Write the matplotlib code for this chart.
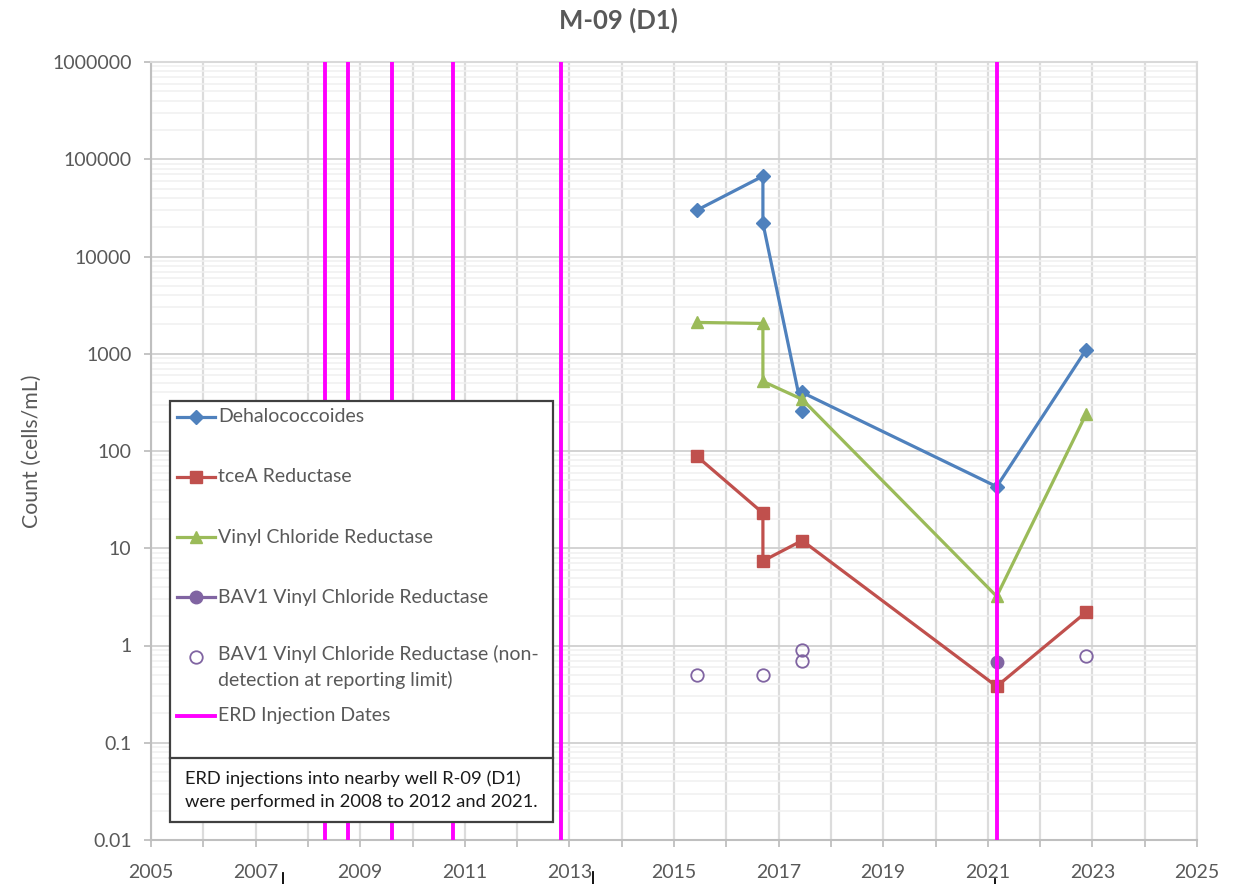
import numpy as np
import matplotlib
matplotlib.use("Agg")
from matplotlib import pyplot as plt
from matplotlib.patches import Rectangle
from matplotlib.lines import Line2D
from matplotlib.ticker import FixedLocator, FuncFormatter, NullFormatter

plt.rcParams['font.family'] = ['Lato', 'DejaVu Sans']

"""
    Data (sample dates as decimal years, counts in cells/mL)
"""
dhc_x = [2015.44, 2016.70, 2016.70, 2017.45, 2017.45, 2021.17, 2022.88]
dhc_y = [30000, 67000, 22000, 260, 400, 43, 1100]

tcea_x = [2015.44, 2016.70, 2016.70, 2017.45, 2021.17, 2022.88]
tcea_y = [88, 23, 7.4, 12, 0.38, 2.2]

vcr_x = [2015.44, 2016.70, 2016.70, 2017.45, 2021.17, 2022.88]
vcr_y = [2100, 2050, 520, 340, 3.2, 240]

bav1_x = [2021.17]
bav1_y = [0.68]

bav1_nd_x = [2015.44, 2016.70, 2017.45, 2017.45, 2022.88]
bav1_nd_y = [0.5, 0.5, 0.9, 0.7, 0.78]

erd_dates = [2008.33, 2008.76, 2009.60, 2010.78, 2012.84, 2021.17]

labels = ['Dehalococcoides', 'tceA Reductase', 'Vinyl Chloride Reductase',
          'BAV1 Vinyl Chloride Reductase',
          'BAV1 Vinyl Chloride Reductase (non-\ndetection at reporting limit)',
          'ERD Injection Dates']
note = 'ERD injections into nearby well R-09 (D1)\nwere performed in 2008 to 2012 and 2021.'

BLUE = '#4F81BD'
RED = '#C0504D'
GREEN = '#9BBB59'
PURPLE = '#8064A2'
MAGENTA = '#FF00FF'
TXT = '#595959'

W, H = 1237, 884
fig = plt.figure(figsize=(W / 100, H / 100), dpi=100)
L, R, T, B = 151, 1197, 62, 840
ax = fig.add_axes([L / W, 1 - B / H, (R - L) / W, (B - T) / H])

ax.set_yscale('log')
ax.set_ylim(0.01, 1e6)
ax.set_xlim(2005, 2025)

# grid: yearly verticals, decade majors, 2..9 minors
ax.xaxis.set_major_locator(FixedLocator(np.arange(2005, 2026, 2)))
ax.xaxis.set_minor_locator(FixedLocator(np.arange(2006, 2025, 2)))
ax.yaxis.set_major_locator(FixedLocator([10.0 ** k for k in range(-2, 7)]))
ax.yaxis.set_minor_locator(FixedLocator([m * 10.0 ** k for k in range(-2, 6) for m in range(2, 10)]))
ax.yaxis.set_major_formatter(FuncFormatter(lambda v, p: '%d' % v if v >= 1 else '%g' % v))
ax.yaxis.set_minor_formatter(NullFormatter())
ax.xaxis.set_major_formatter(FuncFormatter(lambda v, p: '%d' % v))

ax.grid(True, which='major', axis='y', color='#D0D0D0', lw=1.3)
ax.grid(True, which='minor', axis='y', color='#F0F0F0', lw=1.1)
ax.grid(True, which='both', axis='x', color='#DCDCDC', lw=1.6)
ax.set_axisbelow(True)

for s in ['left', 'bottom']:
    ax.spines[s].set_color('#BFBFBF')
    ax.spines[s].set_linewidth(1.5)
for s in ['top', 'right']:
    ax.spines[s].set_color('#D9D9D9')
    ax.spines[s].set_linewidth(1.5)

ax.tick_params(axis='both', which='major', direction='out', length=5, width=1.3,
               color='#BFBFBF', labelcolor=TXT, labelsize=14)
ax.tick_params(axis='y', which='major', pad=9)
ax.tick_params(axis='x', which='major', pad=12)
ax.tick_params(axis='x', which='minor', direction='out', length=5, width=1.3, color='#BFBFBF')
ax.tick_params(axis='y', which='minor', length=0)

ax.set_ylabel('Count (cells/mL)', color=TXT, fontsize=15.3, labelpad=7)
fig.text(0.5, 0.977, 'M-09 (D1)', ha='center', va='center', color=TXT,
         fontsize=18.5, fontweight='bold')

# series
ax.plot(dhc_x, dhc_y, color=BLUE, lw=2.3, marker='D', ms=7, zorder=4)
ax.plot(tcea_x, tcea_y, color=RED, lw=2.3, marker='s', ms=9, zorder=4)
ax.plot(vcr_x, vcr_y, color=GREEN, lw=2.3, marker='^', ms=9, zorder=4)
ax.plot(bav1_x, bav1_y, color=PURPLE, lw=2.3, marker='o', ms=9, ls='none', zorder=4)
ax.plot(bav1_nd_x, bav1_nd_y, ls='none', marker='o', ms=9, mfc='none',
        mec=PURPLE, mew=1.3, zorder=4)
for d in erd_dates:
    ax.axvline(d, color=MAGENTA, lw=2.8, zorder=5)

# legend box drawn inside the axes
def ax_x(px):
    return (px - L) / (R - L)

def ax_y(py):
    return (B - py) / (B - T)

box_l, box_r, box_t, box_sep, box_b = 170, 553, 401, 758, 822
ax.add_patch(Rectangle((ax_x(box_l), ax_y(box_b)), ax_x(box_r) - ax_x(box_l),
                       ax_y(box_t) - ax_y(box_b), transform=ax.transAxes,
                       facecolor='white', edgecolor='#404040', lw=1.6, zorder=10))
ax.add_line(Line2D([ax_x(box_l), ax_x(box_r)], [ax_y(box_sep)] * 2,
                   transform=ax.transAxes, color='#404040', lw=1.6, zorder=11))

handles = [
    dict(color=BLUE, marker='D', ms=7),
    dict(color=RED, marker='s', ms=9),
    dict(color=GREEN, marker='^', ms=9),
    dict(color=PURPLE, marker='o', ms=9),
    dict(color='none', marker='o', ms=9, mfc='none', mec=PURPLE, mew=1.3),
    dict(color=MAGENTA, marker=None, lw=2.8),
]
rows = [417, 477, 537, 597, 657, 716]
for lab, hd, py in zip(labels, handles, rows):
    yy = ax_y(py)
    kw = dict(lw=2.3)
    kw.update(hd)
    ax.add_line(Line2D([ax_x(177), ax_x(196), ax_x(215)], [yy] * 3, markevery=[1],
                       transform=ax.transAxes, zorder=12, **kw))
    if '\n' in lab:
        # two-line entry: first line level with its marker
        ax.text(ax_x(218), ax_y(py - 12), lab, transform=ax.transAxes, ha='left',
                va='top', color=TXT, fontsize=14, zorder=12, linespacing=1.55)
    else:
        ax.text(ax_x(218), yy, lab, transform=ax.transAxes, ha='left',
                va='center', color=TXT, fontsize=14, zorder=12)

ax.text(ax_x(185), ax_y(790), note, transform=ax.transAxes, ha='left', va='center',
        color='#1A1A1A', fontsize=13.2, linespacing=1.5, zorder=12)

# small black strokes along the bottom edge
for px, py0 in [(283, 873), (593, 872), (995, 879)]:
    fig.add_artist(Line2D([px / W, px / W], [1 - py0 / H, 0], color='black', lw=1.3))

fig.savefig('out.png', dpi=100)
